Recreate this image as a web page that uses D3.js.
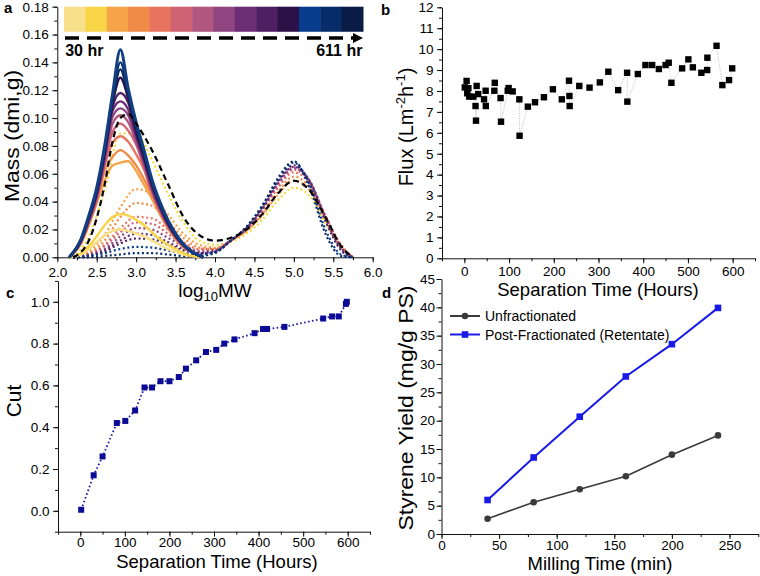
<!DOCTYPE html>
<html>
<head>
<meta charset="utf-8">
<script src="https://cdn.jsdelivr.net/npm/d3@7"></script>
<style>
  body { margin: 0; background: #fff; }
  svg { font-family: "Liberation Sans", Arial, sans-serif; }
  .axis text { font-size: 13.5px; fill: #000; font-family: "Liberation Sans", Arial, sans-serif; }
  .axis path, .axis line { stroke: #111; }
  .title { font-size: 19px; fill: #000; }
  .ytitle { font-size: 20px; fill: #000; }
  .tag { font-size: 15px; font-weight: bold; fill: #000; }
</style>
</head>
<body>
<div class="chart"></div>
<script>
// ---------- panel a : molecular weight distributions ----------
const colorbar = ["#f8e08a", "#f8d447", "#f5a449", "#ef8a47", "#e8735f", "#cf6373", "#b0567f",
  "#8e4580", "#6b2d73", "#4f1f63", "#2c1048", "#073d8c", "#062c6a", "#0a1c45"];
const cbarLogRange = [2.085, 5.877];
const cbarMass = [0.162, 0.180];
const timeLabels = ["30 hr", "611 hr"];

// permeate (solid) curves, log10MW grid
const solidGrid = [2.15, 2.3, 2.4, 2.5, 2.6, 2.7, 2.8, 2.9, 3.0, 3.1, 3.2, 3.3, 3.4, 3.5, 3.6, 3.7, 3.85];
const solidCurves = [
  [0, .002, .006, .011, .016, .019, .020, .019, .017, .015, .012, .009, .006, .004, .002, .001, 0],
  [0, .003, .008, .015, .023, .029, .031, .030, .027, .023, .018, .013, .009, .006, .003, .001, 0],
  [0, .010, .023, .039, .055, .066, .068, .069, .062, .052, .042, .031, .021, .013, .007, .004, 0],
  [0, .010, .024, .040, .062, .072, .077, .073, .066, .056, .045, .032, .022, .014, .008, .004, 0],
  [0, .011, .025, .041, .066, .082, .087, .083, .074, .063, .046, .033, .022, .014, .008, .004, 0],
  [0, .011, .025, .042, .067, .090, .096, .091, .081, .065, .047, .034, .023, .014, .008, .004, 0],
  [0, .011, .026, .043, .069, .096, .102, .097, .083, .066, .048, .034, .023, .015, .008, .004, 0],
  [0, .011, .026, .044, .070, .101, .107, .102, .085, .068, .049, .035, .024, .015, .008, .004, 0],
  [0, .012, .027, .045, .072, .105, .112, .106, .087, .069, .050, .036, .024, .015, .009, .004, 0],
  [0, .012, .028, .046, .074, .108, .118, .111, .089, .071, .052, .037, .025, .016, .009, .004, 0],
  [0, .012, .028, .047, .075, .110, .129, .114, .091, .072, .053, .038, .025, .016, .009, .004, 0],
  [0, .012, .029, .048, .077, .112, .135, .116, .093, .074, .054, .038, .026, .016, .009, .004, 0],
  [0, .013, .029, .049, .078, .115, .140, .119, .095, .076, .055, .039, .027, .017, .009, .004, 0],
  [0, .013, .030, .050, .080, .117, .149, .121, .097, .077, .056, .040, .027, .017, .0095, .0045, 0]
];
const solidColors = ["#f8e08a", "#f8d447", "#f5a449", "#ef8a47", "#e8735f", "#cf6373", "#b0567f",
  "#8e4580", "#6b2d73", "#4f1f63", "#2c1048", "#0d2660", "#0c3470", "#123f82"];

// retentate (dotted) curves
const dottedGrid = [2.2, 2.4, 2.6, 2.8, 3.0, 3.2, 3.4, 3.6, 3.8, 4.0, 4.2, 4.4, 4.6, 4.8, 5.0, 5.2, 5.4, 5.6, 5.75];
const dottedCurves = [
  [0, .015, .048, .089, .089, .070, .046, .025, .012, .009, .011, .017, .027, .041, .050, .044, .025, .007, 0],
  [0, .004, .016, .036, .049, .045, .031, .017, .009, .007, .012, .019, .030, .045, .055, .048, .028, .008, 0],
  [0, .003, .012, .029, .039, .037, .026, .014, .007, .006, .012, .019, .031, .047, .058, .050, .029, .008, 0],
  [0, .002, .009, .021, .029, .028, .020, .011, .006, .006, .012, .020, .033, .050, .061, .053, .030, .009, 0],
  [0, .002, .008, .018, .025, .024, .017, .009, .005, .005, .012, .020, .034, .051, .063, .054, .030, .008, 0],
  [0, .002, .006, .015, .021, .020, .014, .008, .004, .005, .012, .021, .035, .053, .064, .055, .029, .007, 0],
  [0, .001, .005, .012, .017, .016, .011, .006, .003, .004, .012, .021, .035, .054, .065, .055, .028, .006, 0],
  [0, .001, .004, .010, .0135, .013, .009, .005, .003, .004, .012, .021, .036, .055, .066, .054, .026, .005, 0],
  [0, .001, .003, .006, .0075, .007, .005, .003, .002, .004, .012, .022, .037, .056, .068, .052, .020, .002, 0],
  [0, 0, .001, .002, .003, .003, .002, .001, .001, .003, .012, .022, .037, .057, .069, .050, .017, .001, 0]
];
const dottedColors = ["#f5dc3c", "#f5a449", "#ef8a47", "#e8735f", "#cf6373", "#8e4580",
  "#6b2d73", "#4f1f63", "#073d8c", "#062c6a"];

// feed (black dashed)
const feedGrid = [2.2, 2.4, 2.6, 2.7, 2.8, 2.9, 3.0, 3.2, 3.4, 3.6, 3.8, 4.0, 4.2, 4.4, 4.6, 4.8, 5.0, 5.2, 5.4, 5.6, 5.75];
const feedMass = [0, .012, .052, .083, .100, .103, .096, .077, .053, .029, .016, .012, .014, .020, .031, .046, .055, .048, .029, .008, 0];

// ---------- panel b : flux ----------
const fluxHours = [1, 5, 6.5, 9, 11, 20, 25, 26, 27.5, 31, 44, 47.6, 48, 67, 68, 81, 82, 97, 99, 108, 123, 123.5,
  142, 158, 178, 198, 218, 234, 235, 235.5, 257, 280, 303, 322, 344, 364, 364.5, 388, 405, 420, 435, 450,
  457, 463, 487, 501, 511, 530, 543, 543.5, 564, 577, 592, 599];
const fluxValues = [8.17, 8.48, 7.89, 8.13, 7.73, 7.73, 7.28, 6.58, 8.24, 7.85, 7.6, 8.01, 7.28, 8.01, 8.39, 7.66,
  6.53, 8.01, 8.14, 7.98, 7.6, 5.86, 7.25, 7.46, 7.7, 8.08, 7.6, 8.49, 7.76, 7.28, 8.24, 8.16, 8.41, 8.92,
  8.04, 8.87, 7.49, 8.81, 9.24, 9.24, 9.05, 9.24, 9.35, 8.39, 9.08, 9.51, 9.13, 8.87, 9.0, 9.59, 10.16,
  8.28, 8.52, 9.08];

// ---------- panel c : cut ----------
const cutHours = [2, 30, 50, 82, 101, 123, 144, 161, 180, 200, 221, 237, 260, 282, 305, 323, 346, 391, 410,
  419, 458, 545, 565, 580, 596, 598];
const cutValues = [0.005, 0.17, 0.26, 0.42, 0.43, 0.48, 0.59, 0.59, 0.62, 0.62, 0.64, 0.68, 0.72, 0.76, 0.77,
  0.80, 0.82, 0.85, 0.87, 0.87, 0.88, 0.92, 0.93, 0.93, 0.99, 1.0];

// ---------- panel d : styrene yield ----------
const millingTime = [40, 80, 120, 160, 200, 240];
const yieldUnfrac = [2.7, 5.6, 7.9, 10.2, 14.0, 17.4];
const yieldPost = [6.0, 13.5, 20.7, 27.8, 33.5, 39.9];
const seriesNames = ["Unfractionated", "Post-Fractionated (Retentate)"];

const svg = d3.select(".chart").append("svg")
  .attr("width", 760).attr("height", 576);

// draws a left or bottom axis with major and minor ticks
function addAxis(axisFn, scale, majors, minors, fmt, transform, pad) {
  const g = svg.append("g").attr("class", "axis").attr("transform", transform);
  g.call(axisFn(scale).tickValues(minors).tickSize(3).tickFormat("").tickSizeOuter(0));
  const m = g.append("g").call(axisFn(scale).tickValues(majors).tickSize(5)
    .tickPadding(pad).tickFormat(fmt).tickSizeOuter(0));
  m.select(".domain").remove();
  return g;
}

function range(a, b, step) {
  return d3.range(Math.round((b - a) / step) + 1).map(i => +(a + i * step).toFixed(4));
}

function tag(x, y, t) {
  svg.append("text").attr("class", "tag").attr("x", x).attr("y", y).text(t);
}

// ================= panel a =================
const xA = d3.scaleLinear().domain([2, 6]).range([57.3, 372.7]);
const yA = d3.scaleLinear().domain([0, 0.18]).range([257.3, 6.7]);

addAxis(d3.axisBottom, xA, range(2, 6, 0.5), range(2, 6, 0.25), d3.format(".1f"), "translate(0,257.3)", 5);
addAxis(d3.axisLeft, yA, range(0, 0.18, 0.02), range(0, 0.18, 0.01), d3.format(".2f"), "translate(57.3,0)", 3.5);

const plotA = svg.append("g");

dottedCurves.forEach(function (c, k) {
  const line = d3.line().x((d, i) => xA(dottedGrid[i])).y(d => yA(d)).curve(d3.curveMonotoneX);
  plotA.append("path").datum(c).attr("d", line)
    .attr("fill", "none").attr("stroke", dottedColors[k])
    .attr("stroke-width", 2.2).attr("stroke-dasharray", "2,2.6");
});

solidCurves.forEach(function (c, k) {
  const line = d3.line().x((d, i) => xA(solidGrid[i])).y(d => yA(d)).curve(d3.curveMonotoneX);
  plotA.append("path").datum(c).attr("d", line)
    .attr("fill", "none").attr("stroke", solidColors[k])
    .attr("stroke-width", k === solidCurves.length - 1 ? 3 : 2.4);
});

const feedLine = d3.line().x((d, i) => xA(feedGrid[i])).y(d => yA(d)).curve(d3.curveMonotoneX);
plotA.append("path").datum(feedMass).attr("d", feedLine)
  .attr("fill", "none").attr("stroke", "#000")
  .attr("stroke-width", 2.2).attr("stroke-dasharray", "6,4");

// colour bar
const cb = d3.scaleBand().domain(d3.range(colorbar.length))
  .range([xA(cbarLogRange[0]), xA(cbarLogRange[1])]);
svg.selectAll(".cbar").data(colorbar).enter().append("rect")
  .attr("x", (d, i) => cb(i)).attr("width", cb.bandwidth() + 0.5)
  .attr("y", yA(cbarMass[1])).attr("height", yA(cbarMass[0]) - yA(cbarMass[1]))
  .attr("fill", d => d);

// dashed arrow
const arrowY = yA(0.1575);
const tipX = xA(cbarLogRange[1]);
svg.append("line").attr("x1", xA(cbarLogRange[0]) + 1).attr("x2", tipX - 8)
  .attr("y1", arrowY).attr("y2", arrowY)
  .attr("stroke", "#000").attr("stroke-width", 3.5).attr("stroke-dasharray", "14,8");
svg.append("path")
  .attr("d", `M${tipX},${arrowY} L${tipX - 10},${arrowY - 5} L${tipX - 10},${arrowY + 5} Z`)
  .attr("fill", "#000");

svg.append("text").attr("x", xA(2.1)).attr("y", yA(0.1445))
  .style("font-size", "16px").style("font-weight", "bold").text(timeLabels[0]);
svg.append("text").attr("x", xA(5.87)).attr("y", yA(0.1445)).attr("text-anchor", "end")
  .style("font-size", "16px").style("font-weight", "bold").text(timeLabels[1]);

// titles a
const logT = svg.append("text").attr("class", "title").attr("x", 215).attr("y", 297)
  .attr("text-anchor", "middle");
logT.append("tspan").text("log");
logT.append("tspan").attr("dy", 4).style("font-size", "13px").text("10");
logT.append("tspan").attr("dy", -4).text("MW");

svg.append("text").attr("class", "ytitle").attr("transform", "rotate(-90)")
  .attr("x", -136).attr("y", 19).attr("text-anchor", "middle")
  .attr("textLength", 132).attr("lengthAdjust", "spacingAndGlyphs").text("Mass (dmi,g)");
tag(4, 13, "a");

// ================= panel b =================
const xB = d3.scaleLinear().domain([-50, 650]).range([442, 755]);
const yB = d3.scaleLinear().domain([0, 12]).range([258.3, 7.3]);

addAxis(d3.axisBottom, xB, range(0, 600, 100), range(-50, 650, 50), d3.format("d"), "translate(0,258.3)", 3.5);
addAxis(d3.axisLeft, yB, range(0, 12, 1), range(0, 12, 0.5), d3.format("d"), "translate(442,0)", 3.5);

const fluxData = fluxHours.map((h, i) => ({ h: h, v: fluxValues[i] }));
svg.append("path").datum(fluxData)
  .attr("d", d3.line().x(d => xB(d.h)).y(d => yB(d.v)))
  .attr("fill", "none").attr("stroke", "#aaa").attr("stroke-width", 0.8)
  .attr("stroke-dasharray", "1,1.5");
svg.selectAll(".fluxpt").data(fluxData).enter().append("rect")
  .attr("x", d => xB(d.h) - 3.2).attr("y", d => yB(d.v) - 3.2)
  .attr("width", 6.4).attr("height", 6.4).attr("fill", "#000");

svg.append("text").attr("class", "title").attr("x", 598).attr("y", 296)
  .attr("text-anchor", "middle").style("font-size", "18.5px").text("Separation Time (Hours)");
const fluxT = svg.append("text").attr("class", "ytitle").attr("transform", "rotate(-90)")
  .attr("x", -127).attr("y", 413).attr("text-anchor", "middle");
fluxT.append("tspan").text("Flux (Lm");
fluxT.append("tspan").attr("dy", -8).style("font-size", "13px").text("-2");
fluxT.append("tspan").attr("dy", 8).text("h");
fluxT.append("tspan").attr("dy", -8).style("font-size", "13px").text("-1");
fluxT.append("tspan").attr("dy", 8).text(")");
tag(381, 15, "b");

// ================= panel c =================
const xC = d3.scaleLinear().domain([-50, 650]).range([58, 370]);
const yC = d3.scaleLinear().domain([-0.1, 1.1]).range([531.7, 280.9]);

addAxis(d3.axisBottom, xC, range(0, 600, 100), range(-50, 650, 50), d3.format("d"), "translate(0,531.7)", 1);
addAxis(d3.axisLeft, yC, range(0, 1, 0.2), range(-0.1, 1.1, 0.1), d3.format(".1f"), "translate(58,0)", 3.5);

const cutData = cutHours.map((h, i) => ({ h: h, v: cutValues[i] }));
svg.append("path").datum(cutData)
  .attr("d", d3.line().x(d => xC(d.h)).y(d => yC(d.v)))
  .attr("fill", "none").attr("stroke", "#1010a0").attr("stroke-width", 1.8)
  .attr("stroke-dasharray", "1.5,2.5");
svg.selectAll(".cutpt").data(cutData).enter().append("rect")
  .attr("x", d => xC(d.h) - 3).attr("y", d => yC(d.v) - 3)
  .attr("width", 6).attr("height", 6).attr("fill", "#0b0b96");

svg.append("text").attr("class", "title").attr("x", 217).attr("y", 568)
  .attr("text-anchor", "middle").style("font-size", "18.5px").text("Separation Time (Hours)");
svg.append("text").attr("class", "ytitle").attr("transform", "rotate(-90)")
  .attr("x", -401).attr("y", 21).attr("text-anchor", "middle").style("font-size", "21px").text("Cut");
tag(6, 298, "c");

// ================= panel d =================
const xD = d3.scaleLinear().domain([0, 275]).range([441.5, 758.3]);
const yD = d3.scaleLinear().domain([0, 45]).range([534, 279]);

addAxis(d3.axisBottom, xD, range(0, 250, 50), range(0, 275, 25), d3.format("d"), "translate(0,534)", 1);
addAxis(d3.axisLeft, yD, range(0, 45, 5), range(0, 45, 2.5), d3.format("d"), "translate(441.5,0)", 1.5);

const lineD = d3.line().x((d, i) => xD(millingTime[i])).y(d => yD(d));
svg.append("path").datum(yieldUnfrac).attr("d", lineD)
  .attr("fill", "none").attr("stroke", "#3a3a3a").attr("stroke-width", 1.6);
svg.selectAll(".unf").data(yieldUnfrac).enter().append("circle")
  .attr("cx", (d, i) => xD(millingTime[i])).attr("cy", d => yD(d)).attr("r", 3.3)
  .attr("fill", "#3a3a3a");
svg.append("path").datum(yieldPost).attr("d", lineD)
  .attr("fill", "none").attr("stroke", "#1a1ae6").attr("stroke-width", 2);
svg.selectAll(".post").data(yieldPost).enter().append("rect")
  .attr("x", (d, i) => xD(millingTime[i]) - 3.3).attr("y", d => yD(d) - 3.3)
  .attr("width", 6.6).attr("height", 6.6).attr("fill", "#1a1ae6");

// legend
const legendColors = ["#3a3a3a", "#1a1ae6"];
const legend = svg.append("g").attr("transform", "translate(450,316)");
seriesNames.forEach(function (name, i) {
  const g = legend.append("g").attr("transform", "translate(0," + (i * 18.5) + ")");
  g.append("line").attr("x1", 0).attr("x2", 30).attr("stroke", legendColors[i]).attr("stroke-width", 2);
  if (i === 0) g.append("circle").attr("cx", 15).attr("r", 3.3).attr("fill", legendColors[i]);
  else g.append("rect").attr("x", 11.7).attr("y", -3.3).attr("width", 6.6).attr("height", 6.6).attr("fill", legendColors[i]);
  g.append("text").attr("x", 35).attr("y", 5).style("font-size", "14px").text(name);
});

svg.append("text").attr("class", "title").attr("x", 600).attr("y", 570)
  .attr("text-anchor", "middle").style("font-size", "18.5px").text("Milling Time (min)");
svg.append("text").attr("class", "ytitle").attr("transform", "rotate(-90)")
  .attr("x", -408).attr("y", 413).attr("text-anchor", "middle")
  .attr("textLength", 245).attr("lengthAdjust", "spacingAndGlyphs").text("Styrene Yield (mg/g PS)");
tag(382, 298, "d");
</script>
</body>
</html>
